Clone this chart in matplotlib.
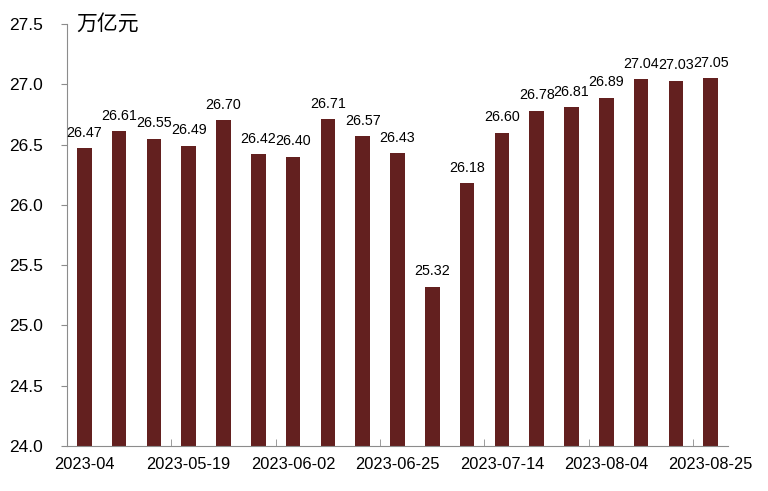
import matplotlib.pyplot as plt
import numpy as np

plt.rcParams["font.family"] = ["Liberation Sans", "Noto Sans CJK SC", "DejaVu Sans"]

# 19 weekly-ish observations, only some dates are shown on the axis
values = [26.47, 26.61, 26.55, 26.49, 26.70, 26.42, 26.40, 26.71, 26.57, 26.43,
          25.32, 26.18, 26.60, 26.78, 26.81, 26.89, 27.04, 27.03, 27.05]
tick_labels = ["2023-04", "2023-05-19", "2023-06-02", "2023-06-25",
               "2023-07-14", "2023-08-04", "2023-08-25"]
unit = "万亿元"

BAR_COLOR = "#63201F"
AXIS_COLOR = "#8C8C8C"

fig = plt.figure(figsize=(7.68, 4.91), dpi=100)
ax = fig.add_axes([0.087, 0.092, 0.861, 0.859])

x = np.arange(len(values))
bars = ax.bar(x, values, width=0.42, color=BAR_COLOR, bottom=0)

for bar, v in zip(bars, values):
    ax.annotate(f"{v:.2f}", (bar.get_x() + bar.get_width() / 2, v),
                xytext=(0, 6), textcoords="offset points",
                ha="center", va="bottom", fontsize=10.3)

ax.set_xlim(-0.5, len(values) - 0.5)
ax.set_ylim(24.0, 27.5)
ax.set_yticks(np.arange(24.0, 27.51, 0.5))
ax.set_yticklabels([f"{t:.1f}" for t in np.arange(24.0, 27.51, 0.5)], fontsize=12.5)

# labels under every third bar, tick marks on the group boundaries
ax.set_xticks(x[::3])
ax.set_xticklabels(tick_labels, fontsize=11.8)
ax.tick_params(axis="x", length=0, pad=8)
ax.set_xticks(np.arange(2.5, len(values) - 0.5, 3), minor=True)
ax.tick_params(axis="x", which="minor", length=5, direction="in", color=AXIS_COLOR)
ax.tick_params(axis="y", length=4, direction="out", color=AXIS_COLOR, pad=13)

for side in ["top", "right"]:
    ax.spines[side].set_visible(False)
ax.spines["left"].set_color(AXIS_COLOR)
ax.spines["bottom"].set_color(AXIS_COLOR)

ax.text(0.015, 1.0, unit, transform=ax.transAxes, ha="left", va="center",
        fontsize=15, family=["Noto Sans CJK SC", "DejaVu Sans"])

fig.savefig("out.png", dpi=100)
